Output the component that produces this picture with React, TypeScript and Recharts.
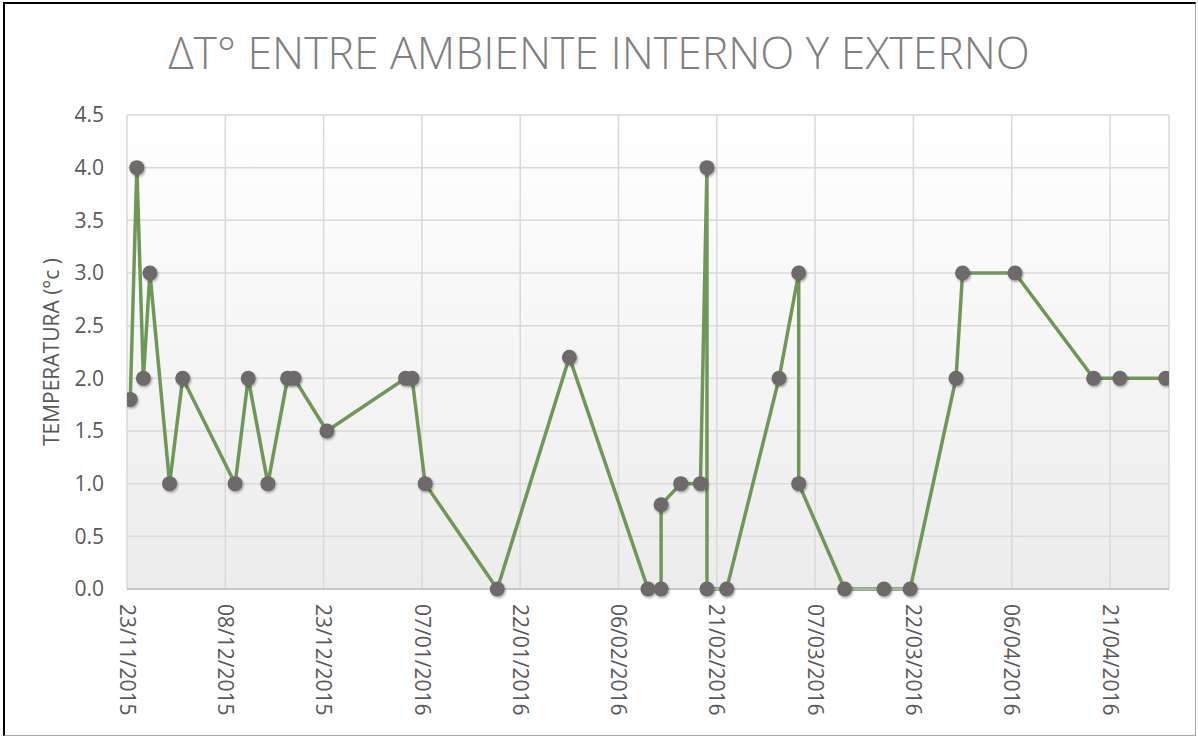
import React from "react";
import {
  LineChart,
  Line,
  XAxis,
  YAxis,
  CartesianGrid,
} from "recharts";

// measurement dates (dd/mm/yyyy) and temperature difference in °C
const dates = [
  "23/11/2015", "24/11/2015", "25/11/2015", "26/11/2015", "29/11/2015",
  "01/12/2015", "09/12/2015", "11/12/2015", "14/12/2015", "17/12/2015",
  "18/12/2015", "23/12/2015", "04/01/2016", "05/01/2016", "07/01/2016",
  "18/01/2016", "29/01/2016", "10/02/2016", "12/02/2016", "12/02/2016",
  "15/02/2016", "18/02/2016", "19/02/2016", "19/02/2016", "22/02/2016",
  "01/03/2016", "04/03/2016", "04/03/2016", "11/03/2016", "17/03/2016",
  "21/03/2016", "28/03/2016", "29/03/2016", "06/04/2016", "18/04/2016",
  "22/04/2016", "29/04/2016",
];

const deltaT = [
  1.8, 4.0, 2.0, 3.0, 1.0,
  2.0, 1.0, 2.0, 1.0, 2.0,
  2.0, 1.5, 2.0, 2.0, 1.0,
  0.0, 2.2, 0.0, 0.0, 0.8,
  1.0, 1.0, 4.0, 0.0, 0.0,
  2.0, 3.0, 1.0, 0.0, 0.0,
  0.0, 2.0, 3.0, 3.0, 2.0,
  2.0, 2.0,
];

const xTicks = [
  "23/11/2015", "08/12/2015", "23/12/2015", "07/01/2016", "22/01/2016",
  "06/02/2016", "21/02/2016", "07/03/2016", "22/03/2016", "06/04/2016",
  "21/04/2016",
];

const yTicks = [0, 0.5, 1, 1.5, 2, 2.5, 3, 3.5, 4, 4.5];

const axisStart = "23/11/2015";
const axisEnd = "30/04/2016";

const DAY = 24 * 3600 * 1000;

const parseDate = (s: string) => {
  const [d, m, y] = s.split("/").map(Number);
  return Date.UTC(y, m - 1, d);
};

const formatDate = (t: number) => {
  const dt = new Date(t);
  const dd = String(dt.getUTCDate()).padStart(2, "0");
  const mm = String(dt.getUTCMonth() + 1).padStart(2, "0");
  return `${dd}/${mm}/${dt.getUTCFullYear()}`;
};

// Excel date axis draws each day's point in the middle of the day
const data = dates.map((d, i) => ({
  t: parseDate(d) + DAY / 2,
  value: deltaT[i],
}));

const FONT = "'Open Sans', 'Noto Sans', sans-serif";
const TEXT = "#595959";

const DateTick = ({ x, y, payload }: any) => (
  <g transform={`translate(${x},${y + 15}) rotate(90)`}>
    <text
      x={0}
      y={0}
      dy="0.35em"
      textAnchor="start"
      fill={TEXT}
      fontSize={21}
      fontFamily={FONT}
    >
      {formatDate(payload.value)}
    </text>
  </g>
);

export default function App() {
  return (
    <div
      style={{
        position: "absolute",
        left: 0,
        top: 0,
        width: 1198,
        height: 737,
        background: "#fff",
        overflow: "hidden",
      }}
    >
      <div
        style={{
          position: "absolute",
          left: 3,
          top: 2,
          width: 1193,
          height: 734,
          boxSizing: "border-box",
          borderTop: "2px solid #000",
          borderLeft: "2px solid #000",
          borderRight: "1px solid #a6a6a6",
          borderBottom: "1px solid #a6a6a6",
        }}
      />
      <div
        style={{
          position: "absolute",
          left: 0,
          top: 23,
          width: 1198,
          textAlign: "center",
          fontFamily: FONT,
          fontWeight: 300,
          fontSize: 44.5,
          color: "#808080",
          lineHeight: "58px",
          whiteSpace: "nowrap",
        }}
      >
        ΔT° ENTRE AMBIENTE INTERNO Y EXTERNO
      </div>
      <svg
        width={1198}
        height={737}
        style={{ position: "absolute", left: 0, top: 0, pointerEvents: "none" }}
      >
        <text
          transform="translate(52,352) rotate(-90)"
          textAnchor="middle"
          dy="0.35em"
          fill={TEXT}
          fontSize={21}
          fontFamily={FONT}
        >
          TEMPERATURA (°c )
        </text>
      </svg>
      <div style={{ position: "absolute", left: 0, top: 0 }}>
        <LineChart
          width={1198}
          height={737}
          data={data}
          margin={{ top: 115, right: 29, left: 0, bottom: 0 }}
        >
          <defs>
            <linearGradient id="plotBg" x1="0" y1="0" x2="0" y2="1">
              <stop offset="0%" stopColor="#ffffff" />
              <stop offset="100%" stopColor="#ececec" />
            </linearGradient>
            <filter id="dotShadow" x="-50%" y="-50%" width="200%" height="200%">
              <feDropShadow dx="1" dy="1.5" stdDeviation="1.2" floodColor="#000" floodOpacity="0.35" />
            </filter>
          </defs>
          <CartesianGrid
            stroke="#d9d9d9"
            strokeWidth={1.5}
            fill="url(#plotBg)"
            fillOpacity={1}
          />
          <XAxis
            dataKey="t"
            type="number"
            domain={[parseDate(axisStart), parseDate(axisEnd)]}
            ticks={xTicks.map(parseDate)}
            tick={<DateTick />}
            tickLine={false}
            tickSize={0}
            tickMargin={0}
            height={148}
            axisLine={{ stroke: "#bfbfbf", strokeWidth: 1.5 }}
            allowDataOverflow
            interval={0}
          />
          <YAxis
            type="number"
            domain={[0, 4.5]}
            ticks={yTicks}
            tickFormatter={(v: number) => v.toFixed(1)}
            width={127}
            axisLine={false}
            tickLine={false}
            tickSize={0}
            tickMargin={23}
            tick={{ fill: TEXT, fontSize: 21, fontFamily: FONT }}
            interval={0}
          />
          <Line
            type="linear"
            dataKey="value"
            stroke="#6f9858"
            strokeWidth={3.5}
            dot={{ r: 7.5, fill: "#6e6a6a", stroke: "none", filter: "url(#dotShadow)" }}
            activeDot={false}
            isAnimationActive={false}
          />
        </LineChart>
      </div>
    </div>
  );
}
